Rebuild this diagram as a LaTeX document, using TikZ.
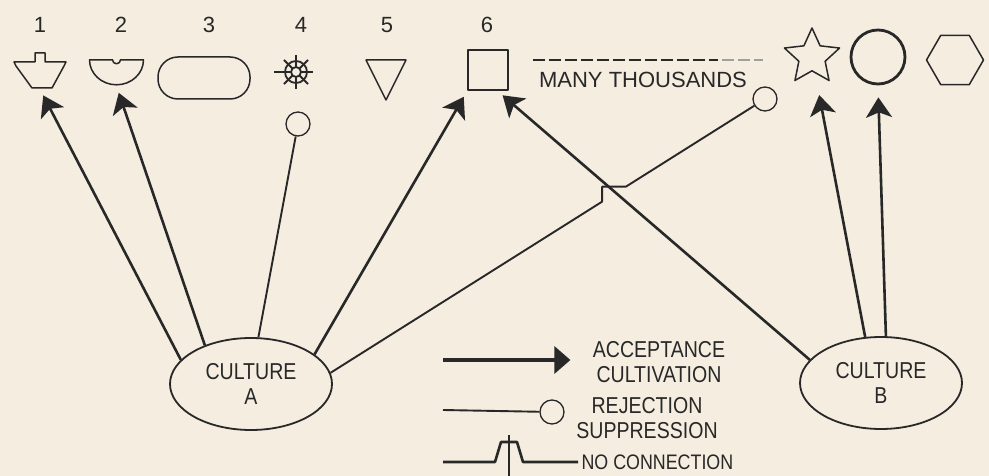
\documentclass[tikz,border=0pt]{standalone}
\usepackage{fontspec}
\setmainfont{Liberation Sans}
\newfontfamily\narrowfont[FakeStretch=0.85]{Liberation Sans}
\usetikzlibrary{arrows.meta,shapes.geometric,calc}
\definecolor{paper}{RGB}{244,237,224}
\definecolor{ink}{RGB}{40,40,40}

\begin{document}
\begin{tikzpicture}[x=1pt, y=-1pt, line join=round,
  culture/.style={ellipse, draw=ink, line width=1.8pt, minimum width=162, minimum height=92, align=center, text=ink, font=\narrowfont\fontsize{23}{25}\selectfont},
  accept/.style={draw=ink, line width=2.6pt, -{Stealth[length=20pt, width=26pt, inset=5pt]}, shorten >=7pt},
  reject/.style={draw=ink, line width=1.9pt},
  knob/.style={circle, draw=ink, line width=1.3pt, fill=paper, minimum size=24, inner sep=0pt},
  symbol/.style={draw=ink, line width=1.5pt},
  legend/.style={align=center, text=ink, font=\narrowfont\fontsize{23}{25}\selectfont}]
  \fill[paper] (0,0) rectangle (989,476);
  \useasboundingbox (0,0) rectangle (989,476);

  % numbered shapes
  \foreach \i/\x in {1/40, 2/121, 3/209, 4/301, 5/387, 6/487}
    \node[text=ink, font=\fontsize{22}{22}\selectfont] (n\i) at (\x,25) {\i};
  \node[minimum width=52, minimum height=38, inner sep=0pt] (s1) at (40,70) {};
  \draw[symbol, shift={(s1)}] (-26,-8) -- (-5,-8) -- (-5,-17) -- (5,-17) -- (5,-8) -- (26,-8)
    -- (24,-4) -- (12,18) -- (-8,18) -- (-24,-4) -- cycle;
  \node[minimum width=56, minimum height=28, inner sep=0pt] (s2) at (116.5,72) {};
  \draw[symbol, shift={(s2.north)}] (-27,2) -- (-4,2) arc (180:0:4) -- (27,2) arc (0:180:27 and 25) -- cycle;
  \node[symbol, rounded corners=20, minimum width=92, minimum height=42] (s3) at (204,78) {};
  \node[minimum size=36, inner sep=0pt] (s4) at (296,72) {};
  \draw[symbol, line width=1.8pt, shift={(s4)}] (0,0) circle (11) (0,0) circle (5);
  \foreach \a in {0,45,...,315}
    \draw[symbol, line width=2pt, shift={(s4)}] (\a:5) -- (\a:17);
  \draw[symbol, line width=2pt, shift={(s4)}] (180:17) -- (180:22);
  \node[minimum size=40, inner sep=0pt] (s5) at (386,80) {};
  \draw[symbol, shift={(s5)}] (-20,-20) -- (20,-20) -- (0,20) -- cycle;
  \node[symbol, minimum size=40, inner sep=0pt] (s6) at (488,70) {};

  \node[text=ink, font=\fontsize{22}{22}\selectfont] (many) at (643,80) {MANY THOUSANDS};
  \draw[ink, line width=1.3pt, dash pattern=on 12pt off 4pt] (533,60) -- (718,60);
  \draw[ink!45, line width=1.3pt, dash pattern=on 12pt off 4pt] (722,60) -- (763,60);
  \node[star, star points=5, star point ratio=2.1, minimum size=58, inner sep=0pt, symbol] (st) at (812,57) {};
  \node[circle, draw=ink, line width=2.8pt, minimum size=54, inner sep=0pt] (bc) at (878,57) {};
  \node[regular polygon, regular polygon sides=6, minimum size=57, inner sep=0pt, symbol] (hx) at (955,60) {};

  \node[knob] (c4) at (298,124) {};
  \node[knob] (r) at (765,99) {};
  \node[culture] (a) at (251,384) {CULTURE\\A};
  \node[culture] (b) at (881,383) {CULTURE\\B};

  \draw[accept] (a.161) -- (s1.south);
  \draw[accept] (a.140) -- (s2.south);
  \draw[reject] (a.81) -- (c4);
  \draw[accept] (a.25) -- (s6.south west);
  \draw[accept] (b.162) -- (s6.-66);
  \draw[reject] (a.8) -- ($(a.8)!0.625!(r)$) |- ($(a.8)!0.68!(r)$) -- (r);
  \draw[accept, shorten >=22pt] (b.109) -- (st);
  \draw[accept, shorten >=12pt] (b.84) -- (bc.south);

  % legend
  \node[legend] (acc) at (659,362) {ACCEPTANCE\\CULTIVATION};
  \coordinate (l1) at (443,360);
  \draw[accept, line width=3.4pt, shorten >=19pt, -{Triangle[length=16pt, width=27pt]}] (l1) -- (l1 -| acc.west);
  \node[legend] (rej) at (647,418) {REJECTION\\SUPPRESSION};
  \node[knob] (lc) at (552,412) {};
  \coordinate (l2) at (443,410);
  \draw[reject] (l2) -- (lc);
  \node[legend, anchor=west, font=\narrowfont\fontsize{21}{21}\selectfont] (noc) at (578,462) {NO CONNECTION};
  \coordinate (l3) at (443,462);
  \coordinate (l4) at (509,435);
  \draw[reject, line width=2.6pt] (l3) -- ++(52,0) -- ++(6,-20) -- ++(16,0) -- ++(6,20) -- (l3 -| noc.west);
  \draw[reject, line width=2.6pt] (l4) -- (l4 |- 0,476);
\end{tikzpicture}
\end{document}
